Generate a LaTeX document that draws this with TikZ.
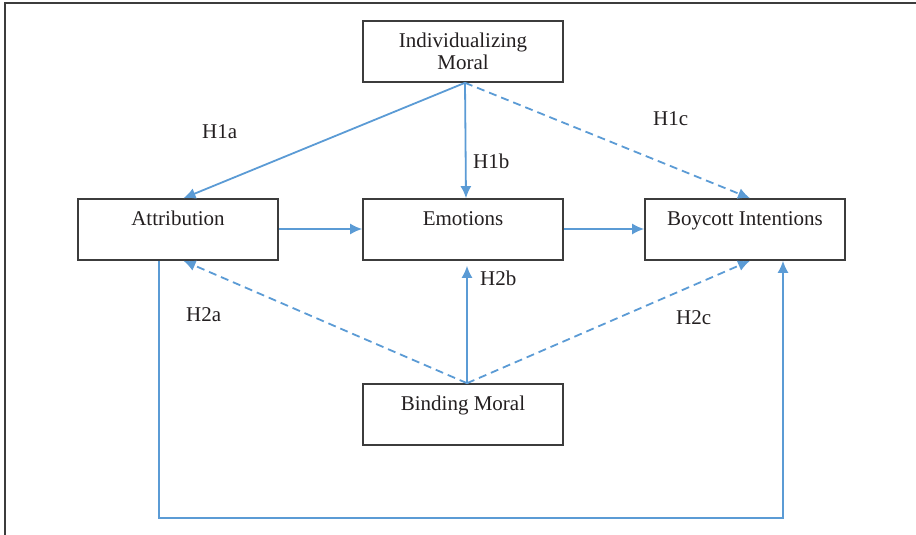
\documentclass[tikz,border=0pt]{standalone}
\usepackage{fontspec}
\setmainfont{Liberation Serif}
\usepackage{tikz}
\usetikzlibrary{arrows.meta}
\definecolor{hypblue}{RGB}{91,155,213}
\definecolor{boxgray}{RGB}{60,60,60}
\definecolor{txtgray}{RGB}{35,31,32}

\begin{document}
\begin{tikzpicture}[x=1pt,y=-1pt,
  box/.style={draw=boxgray,line width=1.6pt,minimum width=200pt,minimum height=61pt,inner sep=0pt,align=center,text=txtgray},
  hyp/.style={hypblue,line width=1.8pt,-{Latex[length=12pt,width=11pt]}},
  weak/.style={hyp,dash pattern=on 8pt off 5pt},
  hlab/.style={anchor=base west,inner sep=0pt,text=txtgray},
  font=\fontsize{21}{22}\selectfont]
\useasboundingbox (0,0) rectangle (916,535);
\draw[boxgray,line width=2pt] (5,535) -- (5,3) -- (916,3);
\node[box] (ind) at (463,51.5) {Individualizing\\Moral};
\node[box] (att) at (178,229.5) {Attribution\\\mbox{}};
\node[box] (emo) at (463,229.5) {Emotions\\\mbox{}};
\node[box] (boy) at (745,229.5) {Boycott Intentions\\\mbox{}};
\node[box] (bin) at (463,414.5) {Binding Moral\\\mbox{}};
% hypotheses
\draw[hyp] ([xshift=2pt]ind.south) -- ([xshift=5.5pt]att.north);
\draw[hyp] ([xshift=2pt]ind.south) -- ([xshift=3pt]emo.north);
\draw[weak] ([xshift=2pt]ind.south) -- ([xshift=5pt]boy.north);
\draw[weak] ([xshift=4pt]bin.north) -- ([xshift=5.5pt]att.south);
\draw[hyp] ([xshift=4pt]bin.north) -- ([xshift=4pt,yshift=-5pt]emo.south);
\draw[weak] ([xshift=4pt]bin.north) -- ([xshift=5pt]boy.south);
\draw[hyp] ([yshift=0.5pt]att.east) -- ([yshift=0.5pt]emo.west);
\draw[hyp] ([yshift=0.5pt]emo.east) -- ([yshift=0.5pt]boy.west);
\draw[hyp] ([xshift=-19pt]att.south) -- ++(0,257.5) -| ([xshift=38pt]boy.south);
\node[hlab] (h1a) at (202,138) {H1a};
\node[hlab] (h1b) at (473,168.5) {H1b};
\node[hlab] (h1c) at (653,125.5) {H1c};
\node[hlab] (h2a) at (186,321.5) {H2a};
\node[hlab] (h2b) at (480,285.5) {H2b};
\node[hlab] (h2c) at (676,324.5) {H2c};
\end{tikzpicture}
\end{document}
